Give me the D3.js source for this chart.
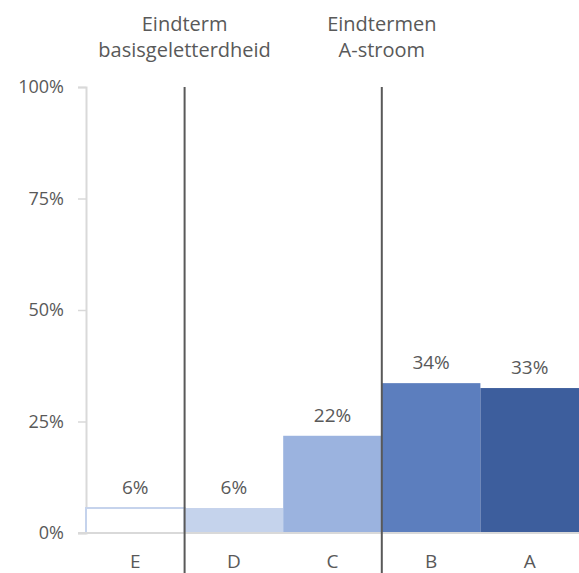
<!DOCTYPE html>
<html>
<head>
<meta charset="utf-8">
<script src="https://cdn.jsdelivr.net/npm/d3@7"></script>
<style>
  body { margin: 0; background: #fff; }
  text { font-family: "Open Sans", sans-serif; fill: #595959; }
</style>
</head>
<body>
<div id="chart"></div>
<script>
// Values (share of pupils per level)
const categories = ['E', 'D', 'C', 'B', 'A'];
const values = [0.056, 0.056, 0.218, 0.336, 0.325];
const valueLabels = ['6%', '6%', '22%', '34%', '33%'];
const barColors = ['#ffffff', '#c5d3ec', '#9bb3df', '#5c7ebe', '#3d5e9d'];
const yTicks = [0, 0.25, 0.5, 0.75, 1];

// Group dividers: drawn after these categories, with header text
const dividers = [
  {after: 'E', lines: ['Eindterm', 'basisgeletterdheid']},
  {after: 'C', lines: ['Eindtermen', 'A-stroom']},
];

const width = 579;
const height = 573;
const margin = {top: 87, right: 0, bottom: 40, left: 86};

const svg = d3.select('#chart')
  .append('svg')
  .attr('width', width)
  .attr('height', height);

const x = d3.scaleBand()
  .domain(categories)
  .range([margin.left, width - margin.right])
  .padding(0);

const y = d3.scaleLinear()
  .domain([0, 1])
  .range([height - margin.bottom, margin.top]);

// y axis
const yAxis = d3.axisLeft(y)
  .tickValues(yTicks)
  .tickFormat(d3.format('.0%'))
  .tickSize(8)
  .tickPadding(14);

const gy = svg.append('g')
  .attr('transform', `translate(${margin.left},0)`)
  .call(yAxis);
gy.select('.domain').attr('stroke', '#d9d9d9').attr('stroke-width', 2);
gy.selectAll('.tick line').attr('stroke', '#d9d9d9').attr('stroke-width', 1.5);
gy.selectAll('.tick text')
  .style('font-size', '18px')
  .attr('fill', '#595959');

// bars
svg.append('g')
  .selectAll('rect')
  .data(categories)
  .enter()
  .append('rect')
  .attr('x', d => x(d))
  .attr('width', x.bandwidth())
  .attr('y', (d, i) => y(values[i]))
  .attr('height', (d, i) => y(0) - y(values[i]))
  .attr('fill', (d, i) => barColors[i])
  .attr('stroke', (d, i) => i === 0 ? '#c5d3ec' : 'none')
  .attr('stroke-width', 2);

// baseline
svg.append('line')
  .attr('x1', margin.left - 8)
  .attr('x2', width)
  .attr('y1', y(0))
  .attr('y2', y(0))
  .attr('stroke', '#d9d9d9')
  .attr('stroke-width', 2);

// value labels
svg.append('g')
  .selectAll('text')
  .data(categories)
  .enter()
  .append('text')
  .attr('x', d => x(d) + x.bandwidth() / 2)
  .attr('y', (d, i) => y(values[i]) - 14)
  .attr('text-anchor', 'middle')
  .style('font-size', '19px')
  .text((d, i) => valueLabels[i]);

// category labels
svg.append('g')
  .selectAll('text')
  .data(categories)
  .enter()
  .append('text')
  .attr('x', d => x(d) + x.bandwidth() / 2)
  .attr('y', height - 5)
  .attr('text-anchor', 'middle')
  .style('font-size', '19px')
  .text(d => d);

// dividers and group headers
dividers.forEach(dv => {
  const xPos = x(dv.after) + x.bandwidth();
  svg.append('line')
    .attr('x1', xPos)
    .attr('x2', xPos)
    .attr('y1', margin.top)
    .attr('y2', height)
    .attr('stroke', '#595959')
    .attr('stroke-width', 2);

  const t = svg.append('text')
    .attr('x', xPos)
    .attr('y', 31)
    .attr('text-anchor', 'middle')
    .style('font-size', '20px');
  dv.lines.forEach((line, i) => {
    t.append('tspan')
      .attr('x', xPos)
      .attr('dy', i === 0 ? 0 : 26)
      .text(line);
  });
});
</script>
</body>
</html>
